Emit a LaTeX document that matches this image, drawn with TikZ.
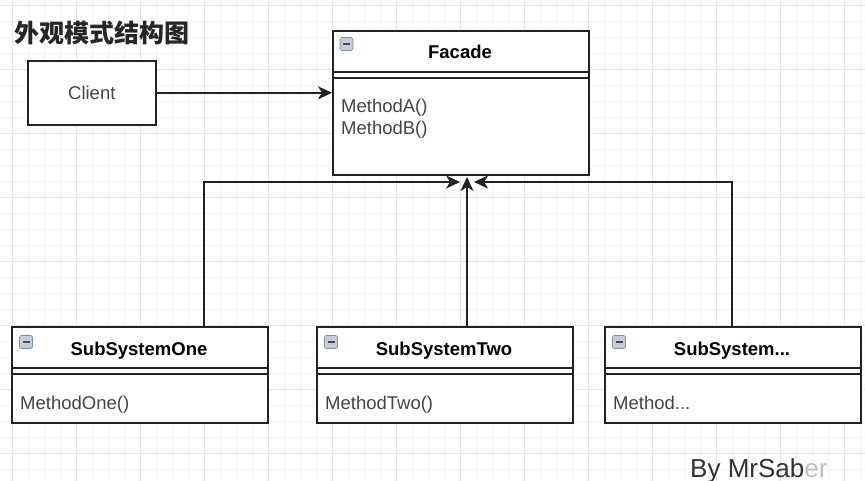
\documentclass[tikz,border=0pt]{standalone}
\usepackage{fontspec}
\setmainfont{Liberation Sans}
\newfontfamily\cjk{Noto Sans CJK SC}
\usetikzlibrary{arrows.meta}
\definecolor{linec}{HTML}{222222}
\definecolor{textc}{HTML}{444444}
\definecolor{gridminor}{HTML}{F3F3F3}
\definecolor{gridmajor}{HTML}{E6E6E6}
\definecolor{iconfill}{HTML}{C4CCD8}
\definecolor{icondraw}{HTML}{8090A4}
\tikzset{
  frame/.style={draw=linec, line width=1.6pt, fill=white, inner sep=0pt, anchor=north west},
  clsbox/.style={frame, minimum width=256pt, minimum height=96pt},
  divider/.style={draw=linec, line width=1.6pt},
  clstitle/.style={font=\fontsize{18.5}{22}\selectfont\bfseries, text=black, anchor=base, inner sep=0pt},
  meth/.style={font=\fontsize{18.5}{22}\selectfont, text=textc, anchor=base west, inner sep=0pt},
  icon/.style={draw=icondraw, fill=iconfill, rounded corners=1.5pt, minimum size=13pt, inner sep=0pt, line width=0.6pt,
    path picture={\draw[line width=1.5pt, draw=black!70] ([xshift=3pt]path picture bounding box.west) -- ([xshift=-3pt]path picture bounding box.east);}},
  arr/.style={draw=linec, line width=1.6pt, -{Stealth[length=14pt, width=13pt, inset=4pt]}},
}
\begin{document}
\begin{tikzpicture}[x=1pt, y=-1pt]
  % background and grid
  \fill[white] (0,0) rectangle (865,481);
  \useasboundingbox (0,0) rectangle (865,481);
  \foreach \gx in {12,28,...,865} {\draw[gridminor, line width=0.6pt] (\gx,0) -- (\gx,481);}
  \foreach \gy in {5,21,...,481} {\draw[gridminor, line width=0.6pt] (0,\gy) -- (865,\gy);}
  \foreach \gx in {12,76,...,865} {\draw[gridmajor, line width=0.8pt] (\gx,0) -- (\gx,481);}
  \foreach \gy in {5,69,...,481} {\draw[gridmajor, line width=0.8pt] (0,\gy) -- (865,\gy);}

  % title
  \node[font=\cjk\bfseries\fontsize{25}{28}\selectfont, text=black!85, anchor=west, inner sep=0pt] (title) at (14,33) {外观模式结构图};

  % client
  \node[frame, minimum width=128pt, minimum height=64pt] (client) at (27,60) {};
  \node[font=\fontsize{18.5}{22}\selectfont, text=textc, inner sep=0pt] (clientT) at (client.center) {Client};

  % facade
  \node[frame, minimum width=256pt, minimum height=144pt] (facade) at (332,30) {};
  \draw[divider] ([yshift=-42pt]facade.north west) -- ([yshift=-42pt]facade.north east);
  \draw[divider] ([yshift=-48pt]facade.north west) -- ([yshift=-48pt]facade.north east);
  \node[icon] (facadeIcon) at (346.5,44) {};
  \node[clstitle] (facadeT) at (460,59) {Facade};
  \node[meth] (methA) at (341,113) {MethodA()};
  \node[meth] (methB) at (341,135) {MethodB()};

  % subsystems
  \node[clsbox] (sub1) at (11,326) {};
  \node[clsbox] (sub2) at (316,326) {};
  \node[clsbox] (sub3) at (604,326) {};
  \foreach \s in {sub1,sub2,sub3} {
    \draw[divider] ([yshift=-42pt]\s.north west) -- ([yshift=-42pt]\s.north east);
    \draw[divider] ([yshift=-48pt]\s.north west) -- ([yshift=-48pt]\s.north east);
  }
  \node[icon] (icon1) at (26,342) {};
  \node[icon] (icon2) at (331,342) {};
  \node[icon] (icon3) at (619,342) {};
  \node[clstitle] (sub1T) at (139,355) {SubSystemOne};
  \node[clstitle] (sub2T) at (444,355) {SubSystemTwo};
  \node[clstitle] (sub3T) at (732,355) {SubSystem...};
  \node[meth] (sub1M) at (20,409) {MethodOne()};
  \node[meth] (sub2M) at (325,409) {MethodTwo()};
  \node[meth] (sub3M) at (613,409) {Method...};

  % connectors
  \draw[arr] (client.east) -- (facade.west |- client.east);
  \coordinate (t1) at (460,182);
  \coordinate (t2) at (467,177);
  \coordinate (t3) at (474,182);
  \coordinate (b1) at (204,326);
  \coordinate (b2) at (467,326);
  \coordinate (b3) at (732,326);
  \draw[arr] (b1) |- (t1);
  \draw[arr] (b2) -- (t2);
  \draw[arr] (b3) |- (t3);

  % watermark
  \node[font=\fontsize{26}{30}\selectfont, anchor=base west, inner sep=0pt] (mark) at (690,477) {\textcolor{black!80}{By MrSab}\textcolor{black!25}{er}};
\end{tikzpicture}
\end{document}
